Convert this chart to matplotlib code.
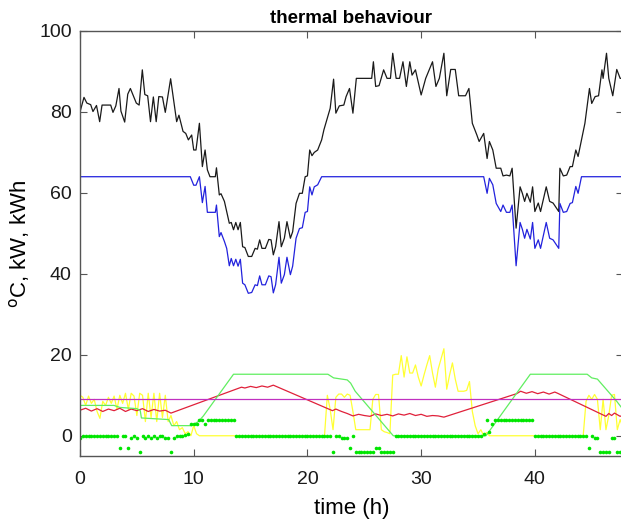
import numpy as np
import matplotlib
matplotlib.use('Agg')
import matplotlib.pyplot as plt

# temperature curve (black)
black_t = [0.0, 0.35, 0.6, 0.94, 1.14, 1.45, 1.73, 1.94, 2.7, 2.9, 3.15, 3.43, 3.6, 3.93,
           4.2, 4.43, 4.95, 5.2, 5.48, 5.7, 5.95, 6.2, 6.45, 6.7, 6.93, 7.25, 7.5, 7.97,
           8.5, 8.7, 9.06, 9.3, 9.53, 9.82, 10.0, 10.2, 10.5, 10.76, 11.0, 11.2, 11.43,
           11.9, 12.0, 12.25, 12.4, 12.7, 12.9, 13.13, 13.3, 13.5, 13.7, 13.9, 14.1, 14.3,
           14.5, 14.8, 15.1, 15.4, 15.6, 15.8, 16.0, 16.3, 16.6, 16.8, 17.0, 17.2, 17.5,
           17.7, 17.97, 18.2, 18.5, 18.7, 19.0, 19.3, 19.55, 19.8, 20.0, 20.2, 20.4, 20.6,
           20.9, 21.25, 21.45, 21.7, 22.0, 22.3, 22.5, 22.8, 23.2, 23.4, 23.7, 24.0, 24.3,
           25.65, 25.8, 26.0, 26.3, 26.7, 27.0, 27.3, 27.5, 27.8, 28.1, 28.4, 28.7, 29.0,
           29.2, 29.5, 30.0, 30.4, 31.0, 31.3, 31.6, 32.0, 32.25, 32.6, 33.0, 33.3, 33.9,
           34.2, 34.5, 34.9, 35.1, 35.5, 35.8, 36.0, 36.3, 36.6, 37.0, 37.2, 37.5, 37.8,
           38.0, 38.35, 38.7, 38.9, 39.1, 39.3, 39.6, 39.8, 40.0, 40.3, 40.5, 41.0, 41.3,
           41.6, 42.1, 42.2, 42.5, 42.8, 43.1, 43.3, 43.6, 43.8, 44.1, 44.4, 44.8, 45.0,
           45.3, 45.6, 45.9, 46.0, 46.3, 46.5, 46.85, 47.2, 47.5, 47.75]
black_v = [80.0, 83.6, 82.2, 81.8, 80.1, 81.6, 77.6, 81.7, 81.7, 79.9, 81.5, 85.8, 80.2, 77.5,
           84.4, 85.8, 82.2, 81.7, 90.4, 84.3, 84.0, 77.6, 83.7, 77.6, 83.8, 83.7, 79.9, 88.2,
           77.6, 79.2, 75.2, 74.7, 73.1, 74.3, 70.6, 70.6, 77.2, 66.5, 70.6, 65.7, 64.0,
           64.0, 66.2, 59.5, 59.8, 57.9, 55.4, 52.5, 52.7, 50.9, 52.7, 50.9, 52.7, 46.7,
           46.5, 44.3, 44.3, 46.3, 46.1, 48.4, 46.3, 46.3, 48.5, 48.4, 44.7, 46.7, 52.9,
           46.7, 48.8, 52.9, 48.8, 50.4, 57.4, 59.9, 59.9, 64.0, 64.2, 70.6, 69.2, 70.0,
           70.6, 73.1, 75.6, 78.0, 80.9, 88.1, 79.7, 81.5, 81.7, 83.8, 85.8, 79.7, 88.3,
           88.3, 92.4, 86.3, 86.5, 90.4, 88.3, 88.3, 94.5, 88.3, 88.3, 92.4, 86.3, 92.4,
           89.1, 90.4, 84.2, 88.3, 92.4, 86.3, 88.3, 94.5, 84.0, 90.5, 90.5, 84.0, 84.0,
           85.8, 77.2, 74.3, 72.7, 74.7, 68.5, 72.7, 70.6, 66.1, 66.1, 64.2, 64.4, 64.2,
           66.1, 51.3, 61.5, 59.9, 57.9, 59.9, 57.7, 61.5, 55.4, 57.5, 55.4, 61.5, 57.9,
           57.5, 55.4, 66.1, 64.2, 64.4, 66.5, 66.5, 70.6, 69.0, 73.1, 77.2, 85.8, 82.1,
           83.8, 84.0, 90.4, 88.3, 94.5, 88.3, 84.0, 90.5, 88.3, 88.3]

# capped curve (blue)
blue_t = [0.0, 9.4, 9.7, 10.0, 10.2, 10.5, 10.76, 11.0, 11.2, 11.9, 12.0, 12.25, 12.4, 12.7,
          12.9, 13.13, 13.3, 13.5, 13.7, 13.9, 14.1, 14.3, 14.5, 14.8, 15.1, 15.4, 15.6,
          15.8, 16.0, 16.3, 16.6, 16.8, 17.0, 17.2, 17.5, 17.7, 17.97, 18.2, 18.5, 18.7,
          19.0, 19.3, 19.55, 19.8, 20.0, 20.2, 20.4, 20.6, 20.9, 21.25, 34.9, 35.5, 35.8,
          36.0, 36.3, 36.6, 37.0, 37.2, 37.5, 37.8, 38.0, 38.35, 38.7, 38.9, 39.1, 39.3,
          39.6, 39.8, 40.0, 40.3, 40.5, 41.0, 41.3, 41.6, 42.1, 42.2, 42.5, 42.8, 43.1,
          43.3, 43.6, 43.8, 44.1, 47.75]
blue_v = [64.0, 64.0, 64.0, 61.9, 61.9, 64.0, 57.6, 61.6, 55.2, 55.2, 57.0, 49.2, 50.2, 48.0,
          46.3, 42.0, 43.8, 42.0, 43.6, 41.9, 43.6, 37.7, 37.3, 35.2, 35.4, 37.3, 37.1,
          39.5, 37.3, 37.3, 39.5, 39.3, 35.3, 37.3, 44.1, 37.7, 39.8, 44.1, 39.8, 41.9,
          48.8, 51.2, 51.4, 55.2, 55.4, 61.5, 59.5, 61.5, 62.0, 64.0, 64.0, 64.0, 59.9,
          63.6, 62.0, 57.4, 55.4, 57.0, 55.2, 55.2, 57.0, 42.0, 52.7, 51.0, 48.8, 51.0,
          48.6, 52.7, 46.3, 48.4, 46.3, 52.7, 48.8, 48.4, 46.3, 57.4, 55.2, 55.4, 57.4,
          57.6, 61.6, 59.9, 64.0, 64.0]

# storage (green line)
green_t = [0.0, 3.0, 3.5, 5.0, 5.3, 5.4, 7.8, 8.06, 9.8, 10.4, 10.85, 13.5, 21.8, 22.3,
           23.5, 23.8, 24.2, 27.55, 35.7, 39.6, 44.6, 45.0, 45.5, 47.2, 47.75]
green_v = [7.5, 7.5, 7.0, 6.7, 6.2, 4.4, 4.0, 2.5, 2.5, 3.5, 4.9, 15.2, 15.2, 14.3,
           13.8, 13.0, 11.0, 0.0, 0.0, 15.2, 15.2, 14.3, 14.0, 8.5, 6.5]

# red line
red_t = [0.0, 0.5, 1.0, 1.5, 2.0, 2.5, 3.0, 3.5, 4.0, 4.5, 5.0, 5.5, 6.0, 6.5, 7.0, 7.5,
         8.0, 14.2, 14.5, 15.0, 15.5, 16.0, 16.5, 17.0, 22.2, 22.5, 23.0, 23.5, 24.0, 24.5,
         25.0, 25.5, 26.0, 26.5, 27.0, 27.5, 28.0, 28.5, 29.0, 29.5, 30.0, 30.5, 31.0,
         31.5, 32.0, 38.4, 38.75, 39.25, 39.75, 40.25, 40.75, 41.25, 41.75, 42.0, 46.25,
         46.5, 46.75, 47.0, 47.5, 47.75]
red_v = [6.3, 6.8, 6.1, 6.7, 6.0, 6.6, 6.2, 6.8, 6.0, 6.6, 6.2, 6.7, 6.0, 6.5, 6.1, 6.3,
         5.6, 12.0, 11.8, 12.2, 11.9, 12.3, 12.0, 12.5, 6.2, 6.6, 6.0, 5.5, 4.9, 5.3,
         5.0, 4.8, 5.4, 5.0, 5.3, 4.9, 5.4, 5.1, 5.5, 5.0, 5.3, 4.8, 5.0,
         4.9, 4.6, 10.4, 11.0, 10.5, 10.9, 10.4, 10.8, 10.3, 10.8, 10.5, 4.8,
         5.5, 5.0, 5.6, 4.8, 5.1]

# constant level (magenta)
magenta_t = [0.0, 47.75]
magenta_v = [9.1, 9.1]

# yellow line
yellow_t = [0.0, 0.25, 0.5, 0.75, 1.0, 1.25, 1.5, 1.75, 2.0, 2.25, 2.5, 2.75, 3.0, 3.25,
            3.5, 3.75, 4.0, 4.25, 4.5, 4.75, 5.0, 5.25, 5.5, 5.75, 6.0, 6.25, 6.5, 6.75,
            7.0, 7.25, 7.5, 7.75, 8.0, 8.25, 8.5, 8.75, 9.0, 9.25, 9.5, 9.75, 10.0, 10.25,
            10.5, 21.5, 21.75, 22.0, 22.25, 22.5, 22.75, 23.0, 23.25, 23.5, 23.75, 24.0,
            24.25, 25.5, 25.75, 26.0, 26.25, 26.5, 26.75, 27.0, 27.25, 27.5, 27.75, 28.0,
            28.25, 28.5, 28.75, 29.0, 29.25, 29.5, 29.75, 30.0, 30.25, 30.5, 30.75, 31.0,
            31.25, 31.5, 31.75, 32.0, 32.25, 32.5, 32.75, 33.0, 33.25, 33.5, 33.75, 34.0,
            34.25, 34.5, 34.75, 35.0, 35.25, 35.5, 35.75, 36.0, 44.25, 44.5, 44.75, 45.0,
            45.25, 45.5, 45.75, 46.0, 46.25, 46.5, 46.75, 47.0, 47.25, 47.5, 47.75]
yellow_v = [10.0, 9.5, 7.5, 9.8, 8.0, 9.0, 6.0, 4.3, 8.5, 7.5, 9.5, 8.0, 9.8, 6.5,
            10.0, 8.0, 10.5, 6.5, 10.5, 9.8, 5.0, 10.5, 10.0, 3.5, 10.5, 4.5, 10.5, 3.5,
            10.5, 4.5, 10.0, 3.5, 5.0, 2.5, 3.5, 1.5, 2.0, 0.5, 1.0, 0.0, 2.5, 0.5,
            0.0, 0.0, 10.0, 6.5, 1.5, 9.5, 10.3, 10.3, 9.5, 10.3, 10.0, 6.0,
            1.5, 1.5, 9.0, 10.2, 10.2, 1.5, 1.0, 0.8, 0.5, 15.0, 15.2, 15.2,
            19.8, 14.5, 19.5, 15.5, 15.5, 17.5, 14.5, 12.3, 15.0, 17.5, 19.8, 15.5,
            12.0, 16.5, 19.0, 21.5, 11.5, 15.0, 18.0, 14.0, 11.0, 11.0, 11.0, 11.2,
            13.4, 6.0, 2.5, 0.5, 1.5, 0.0, 0.8, 0.0, 0.0, 8.5, 10.0, 9.0,
            10.2, 9.0, 1.5, 9.0, 1.5, 5.0, 10.0, 10.2, 1.5, 4.0, 2.0]

# quarter-hourly state (green dots)
dots_v = [-0.5, 0, 0, 0, 0, 0, 0, 0, 0, 0, 0, 0, 0, 0, -3, 0,
          0, -3, -0.5, 0, -0.5, -4, 0, -0.5, 0, -0.5, 0, -0.5, 0, 0, -0.5, -0.5,
          -4, -0.5, 0, 0, 0, 0.3, 0.5, 3, 3, 3, 4, 4, 3, 4, 4, 4,
          4, 4, 4, 4, 4, 4, 4, 0, 0, 0, 0, 0, 0, 0, 0, 0,
          0, 0, 0, 0, 0, 0, 0, 0, 0, 0, 0, 0, 0, 0, 0, 0,
          0, 0, 0, 0, 0, 0, 0, 0, 0, -4, 0, 0, -0.5, -0.5, -0.5, -3,
          0, -4, -4, -4, -4, -4, -4, -4, -3, -3, -4, -4, -4, -4, -4, 0,
          0, 0, 0, 0, 0, 0, 0, 0, 0, 0, 0, 0, 0, 0, 0, 0,
          0, 0, 0, 0, 0, 0, 0, 0, 0, 0, 0, 0, 0, 0, 0.5, 4,
          1, 3, 4, 4, 4, 4, 4, 4, 4, 4, 4, 4, 4, 4, 4, 4,
          0, 0, 0, 0, 0, 0, 0, 0, 0, 0, 0, 0, 0, 0, 0, 0,
          0, 0, 0, -3, 0, -0.5, -0.5, -4, -4, -4, -4, -0.5, -0.5, -4, -4, -0.5]
dots_t = np.arange(len(dots_v)) * 0.25

plt.rcParams['font.family'] = ['Liberation Sans', 'DejaVu Sans']

fig = plt.figure(figsize=(6.21, 5.19), dpi=100)
ax = fig.add_axes([80 / 621, 63 / 519, 543 / 621, 425 / 519])

lw = 0.9
ax.plot(black_t, black_v, color='#1a1a1a', lw=lw)
ax.plot(blue_t, blue_v, color='#2222dd', lw=lw)
ax.plot(yellow_t, yellow_v, color='#ffff33', lw=lw)
ax.plot(red_t, red_v, color='#e0203a', lw=lw)
ax.plot(green_t, green_v, color='#60ee60', lw=lw)
ax.plot(magenta_t, magenta_v, color='#c030c0', lw=lw)
ax.plot(dots_t, dots_v, ls='none', marker='o', markersize=2.6,
        color='#00e600', markeredgewidth=0)

ax.set_xlim(0, 47.75)
ax.set_ylim(-5, 100)
ax.set_xticks([0, 10, 20, 30, 40])
ax.set_yticks([0, 20, 40, 60, 80, 100])

for s in ax.spines.values():
    s.set_color('#555555')
    s.set_linewidth(1.0)
ax.tick_params(direction='in', length=5, width=0.8, color='#555555',
               top=True, right=True, labelsize=14, labelcolor='#1a1a1a')
ax.tick_params(axis='x', pad=11)
ax.tick_params(axis='y', pad=6)

ax.set_title('thermal behaviour', fontsize=13.5, fontweight='bold', pad=6)
ax.set_xlabel('time (h)', fontsize=16, labelpad=7)
ax.set_ylabel(r'$^{\rm o}$C, kW, kWh', fontsize=16)
ax.yaxis.set_label_coords(-0.088, 0.5)

fig.savefig('out.png', dpi=100)
